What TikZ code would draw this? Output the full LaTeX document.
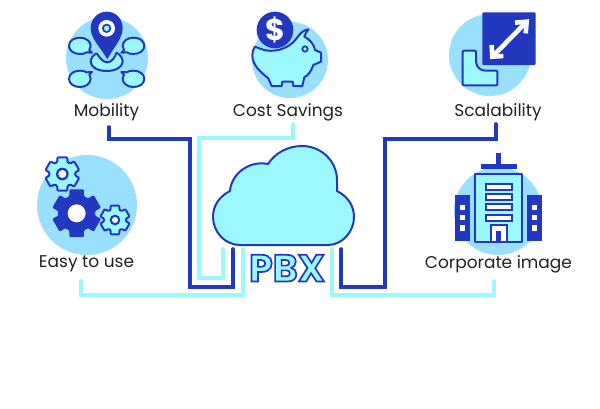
\documentclass[tikz,border=0pt]{standalone}
\usepackage{fontspec}
\setmainfont{Poppins}
\definecolor{dk}{HTML}{2238BE}
\definecolor{lt}{HTML}{9CF8FF}
\definecolor{disc}{HTML}{99DFFF}
\definecolor{ink}{HTML}{222222}
\tikzset{
  disc/.style={fill=disc,draw=none},
  lbl/.style={font=\fontsize{17}{19}\selectfont,text=ink,anchor=base,inner sep=0pt},
  dkline/.style={draw=dk,line width=3.6pt,line cap=round,line join=miter},
  ltline/.style={draw=lt,line width=3.6pt,line cap=round,line join=miter},
  lineart/.style={draw=dk,fill=lt,line width=2pt,line join=round},
  solid/.style={fill=dk,draw=none},
}
\newcommand{\gearpath}[6]{% cx cy R r fill hole options
  \begin{scope}[shift={(#1,#2)}]
    \path[#5,rounded corners=1pt] (90-17:#3) \foreach \a in {90,150,210,270,330,390}{ -- (\a-17:#3) -- (\a+17:#3) -- (\a+23:#4) -- (\a+37:#4)} -- cycle;
    #6
  \end{scope}}
\newcommand{\bubble}[3]{%
  \begin{scope}[shift={(170,187+#3)},xscale=#1,yscale=#2]
    \path[lineart] (-44,-29) -- (-60,-30) .. controls (-66,-26) and (-72,-25) .. (-80,-25)
      .. controls (-98,-25) and (-113,-35) .. (-113,-49)
      .. controls (-113,-65) and (-98,-74) .. (-80,-74) .. controls (-62,-74) and (-48,-63) .. (-48,-49)
      .. controls (-48,-44) and (-50,-40) .. (-52,-37) -- cycle;
  \end{scope}}
\begin{document}
\begin{tikzpicture}[x=1pt,y=-1pt]
\useasboundingbox (0,0) rectangle (600,408);
\fill[white] (0,0) rectangle (600,408);

% discs
\fill[disc] (107,58) circle (41);
\fill[disc] (290,60) circle (38);
\fill[disc] (490,55) circle (41);
\fill[disc] (87,205) circle (50);
\fill[disc] (498,211) circle (44);

% connector ends
\coordinate (mobS) at (109,127);
\coordinate (costS) at (293,124);
\coordinate (scalS) at (496,124);
\coordinate (easyS) at (81,281);
\coordinate (corpS) at (494,281);
\coordinate (pbxA) at (233,249);
\coordinate (pbxB) at (223,249);
\coordinate (pbxC) at (243,249);
\coordinate (pbxD) at (341,249);
\coordinate (pbxE) at (332,249);

% light connectors
\draw[ltline] (costS) -- (293,138) -- (199,138) -- (199,278) -- (223,278) -- (pbxB);
\draw[ltline] (easyS) -- (81,295) -- (243,295) -- (pbxC);
\draw[ltline] (corpS) -- (494,295) -- (332,295) -- (pbxE);
% dark connectors
\draw[dkline] (mobS) -- (109,139) -- (190,139) -- (190,287) -- (233,287) -- (pbxA);
\draw[dkline] (scalS) -- (496,139) -- (385,139) -- (385,287) -- (341,287) -- (pbxD);

% cloud
\path[lineart] (240,245) .. controls (225,245) and (213,232) .. (213,217)
  .. controls (213,205) and (220,196) .. (230,191)
  .. controls (231,175) and (248,160) .. (268,164)
  .. controls (275,153) and (288,146) .. (302,146)
  .. controls (322,146) and (337,162) .. (337,180) -- (337,191)
  .. controls (347,196) and (354,205) .. (354,217)
  .. controls (354,232) and (342,245) .. (328,245) -- cycle;
\node[inner sep=0pt,anchor=base] (pbx) at (287,281.5) {\fontsize{38}{40}\selectfont\bfseries\special{pdf:code q 2 Tr 1.7 w 0.133 0.22 0.745 RG 0.612 0.973 1 rg}PBX\special{pdf:code 0 Tr Q}};

% Mobility icon
\begin{scope}[shift={(50,0)},scale=1/3]
  \bubble{1}{1}{0}
  \bubble{-1}{1}{0}
  \bubble{1}{-1}{0}
  \bubble{-1}{-1}{0}
  \path[lineart] (140,160) .. controls (150,175) and (160,187) .. (172,187)
    .. controls (185,187) and (195,172) .. (200,158) .. controls (212,165) and (218,175) .. (218,185)
    .. controls (218,202) and (195,213) .. (170,213) .. controls (145,213) and (122,202) .. (122,185)
    .. controls (122,175) and (130,165) .. (140,160) -- cycle;
  \path[solid] (172,178) .. controls (150,140) and (122,115) .. (122,85)
    .. controls (122,55) and (145,35) .. (170,35) .. controls (197,35) and (218,55) .. (218,85)
    .. controls (218,115) and (192,140) .. (172,178) -- cycle;
  \fill[white] (170,85) circle (25);
  \fill[dk] (170,85) circle (14);
  \fill[lt] (170,85) circle (8);
\end{scope}

% Cost savings icon
\begin{scope}[shift={(225,0)},scale=1/3]
  \path[lineart] (108,147) .. controls (140,160) and (190,150) .. (215,115)
    .. controls (225,100) and (235,90) .. (250,88) .. controls (245,95) and (240,102) .. (238,110)
    .. controls (255,118) and (268,135) .. (270,150) -- (288,158) -- (288,185) -- (265,195)
    .. controls (258,215) and (250,225) .. (238,232) -- (232,258) -- (205,258) -- (203,245) -- (172,245)
    -- (170,258) -- (140,258) -- (130,235) .. controls (105,215) and (82,195) .. (82,165)
    .. controls (82,155) and (85,148) .. (90,140) -- cycle;
  \path[draw=dk,fill=lt,line width=1.8pt] (240,147) circle (8);
  \fill[dk] (150,90) circle (55);
  \node[inner sep=0pt,text=white,font=\fontsize{30}{32}\selectfont\bfseries] (coin) at (150,90) {\$};
\end{scope}

% Scalability icon
\begin{scope}[shift={(440,0)},scale=1/3]
  \path[lineart,rounded corners=1pt] (68,152) -- (108,152) -- (108,180) .. controls (108,200) and (120,212) .. (140,212) -- (172,212) -- (172,256) -- (68,256) -- cycle;
  \path[solid,rounded corners=1pt] (127,37) rectangle (287,195);
  \draw[white,line width=4.6pt,line join=miter] (225,68) -- (260,65) -- (257,100);
  \draw[white,line width=4.6pt,line join=miter] (155,135) -- (157,170) -- (190,168);
  \draw[white,line width=4.6pt] (260,65) -- (157,170);
\end{scope}

% Easy to use icon
\begin{scope}[shift={(30,150)},scale=1/3]
  \gearpath{97}{72}{52}{39}{lineart}{\fill[dk] (0,0) circle (19); \fill[white] (0,0) circle (12);}
  \gearpath{140}{190}{75}{56}{solid}{\fill[white] (0,0) circle (27);}
  \gearpath{255}{210}{45}{33}{lineart}{\fill[dk] (0,0) circle (16); \fill[white] (0,0) circle (9);}
\end{scope}

% Corporate icon
\begin{scope}[shift={(420,150)},scale=1/3]
  \path[solid] (228,10) rectangle (243,45);
  \path[solid] (182,42) rectangle (290,58);
  \path[solid] (105,135) rectangle (150,272);
  \path[solid] (322,135) rectangle (367,272);
  \foreach \y in {172,203,234}{
    \fill[white] (120,\y-8) rectangle (136,\y+8);
    \fill[white] (336,\y-8) rectangle (352,\y+8);
  }
  \path[lineart] (165,72) rectangle (305,275);
  \foreach \y in {102,133,163,194}{
    \path[draw=dk,fill=white,line width=2pt] (197,\y) rectangle (275,\y+18);
  }
  \path[draw=dk,fill=white,line width=2pt] (212,225) rectangle (260,275);
  \path[solid] (229,242) rectangle (243,275);
\end{scope}

% labels
\node[lbl] (mobility) at (106.5,116) {Mobility};
\node[lbl] (cost) at (288,116) {Cost Savings};
\node[lbl] (scal) at (498,116) {Scalability};
\node[lbl] (easy) at (86.5,267) {Easy to use};
\node[lbl] (corp) at (498.5,268) {Corporate image};
\end{tikzpicture}
\end{document}
